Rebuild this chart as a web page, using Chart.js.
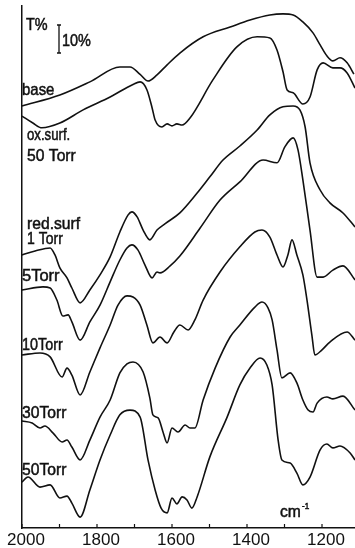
<!DOCTYPE html>
<html>
<head>
<meta charset="utf-8">
<script src="https://cdn.jsdelivr.net/npm/chart.js@4/dist/chart.umd.min.js"></script>
<style>
  html, body { margin: 0; padding: 0; background: #fff; }
  canvas { display: block; }
</style>
</head>
<body>
<canvas id="spectra" width="355" height="548"></canvas>
<script>
// IR transmission spectra, 2000-1112 cm-1. Curves are stacked with vertical offsets;
// values are transmittance in % on a common offset scale (10 % bar shown).

const baseWn = [2000,1899,1819,1739,1712,1685,1664,1640,1613,1579,1517,1445,1392,1339,1304,1277,1251,1224,1205,1187,1171,1152,1133,1115];
const baseT  = [150.7,154.6,159.3,164.6,164.6,162.0,159.6,161.8,165.4,169.6,175.4,178.9,181.4,183.2,183.6,183.2,180.7,176.8,172.5,168.6,166.8,167.9,166.1,162.1];

const oxWn = [2000,1971,1947,1899,1837,1765,1704,1685,1667,1653,1645,1627,1613,1600,1587,1573,1552,1491,1427,1373,1339,1320,1304,1293,1277,1251,1232,1213,1197,1171,1152,1133,1112];
const oxT  = [147.1,144.6,142.9,144.6,149.3,153.9,158.4,159.3,156.5,150.0,145.7,143.2,144.3,143.6,144.3,143.9,146.4,160.0,171.8,175.4,175.0,170.7,162.9,156.4,155.4,151.4,153.9,163.6,166.1,164.3,164.3,162.5,157.1];

const red1Wn = [2000,1965,1925,1912,1899,1880,1867,1845,1819,1792,1765,1739,1717,1707,1693,1677,1659,1640,1619,1579,1533,1499,1464,1419,1373,1339,1304,1277,1259,1245,1232,1205,1179,1144,1112];
const red1T  = [97.5,98.9,100.0,97.5,92.9,89.3,85.7,80.4,85.0,90.4,96.8,105.7,111.8,112.9,111.1,106.4,102.9,106.4,108.6,112.5,119.6,125.4,131.4,136.4,142.1,147.5,150.4,150.7,149.3,143.2,130.4,120.7,116.1,112.5,107.5];

const red5Wn = [2000,1944,1925,1907,1891,1877,1867,1845,1819,1792,1765,1739,1720,1707,1691,1672,1653,1640,1632,1605,1579,1525,1472,1419,1357,1320,1299,1277,1264,1251,1232,1213,1197,1171,1144,1112];
const red5T  = [85.0,86.1,85.7,81.4,75.7,76.1,73.6,67.1,73.6,79.6,87.9,95.7,100.0,101.1,99.3,93.9,89.3,91.4,91.1,93.6,97.1,107.1,117.1,123.6,131.4,130.4,136.1,139.3,135.0,124.3,106.4,89.6,89.6,92.1,93.6,88.6];

const red10Wn = [2000,1952,1925,1893,1880,1867,1845,1819,1792,1765,1744,1720,1704,1685,1667,1651,1632,1613,1595,1579,1557,1539,1517,1472,1419,1379,1360,1339,1320,1304,1291,1280,1267,1251,1240,1227,1219,1200,1179,1133,1112];
const red10T  = [61.8,62.5,61.1,53.9,57.1,54.6,47.5,55.7,64.3,72.5,79.6,82.9,82.5,79.6,72.5,66.1,68.2,66.1,70.0,72.5,70.7,74.3,81.4,91.4,100.4,105.7,106.4,103.9,97.5,93.2,97.5,102.9,97.5,90.4,81.4,68.9,61.8,63.6,66.4,70.0,67.1];

const red30Wn = [2000,1973,1952,1939,1917,1893,1880,1867,1845,1819,1792,1765,1739,1720,1704,1677,1659,1651,1637,1624,1613,1600,1584,1565,1552,1539,1517,1485,1445,1419,1379,1360,1344,1333,1320,1307,1285,1267,1251,1237,1224,1213,1187,1171,1144,1112];
const red30T  = [38.2,37.5,35.7,36.4,33.9,30.7,31.4,28.9,24.3,31.4,39.6,45.7,55.4,58.6,59.3,55.7,46.4,40.4,39.3,34.3,30.4,35.7,34.3,36.8,35.7,35.7,45.7,57.1,68.2,72.5,78.9,80.7,78.6,74.3,63.6,53.6,55.4,51.8,45.7,42.1,41.4,44.6,46.8,46.1,47.1,42.1];

const red50Wn = [2000,1984,1952,1925,1899,1880,1867,1845,1819,1792,1765,1739,1712,1685,1664,1645,1629,1613,1600,1587,1573,1560,1547,1533,1499,1453,1419,1392,1365,1347,1333,1317,1307,1285,1267,1251,1232,1205,1187,1171,1152,1125,1112];
const red50T  = [16.4,18.2,14.6,15.4,10.7,11.4,8.9,3.9,13.6,24.3,33.2,40.4,42.1,39.6,24.3,13.6,7.1,5.4,10.7,8.6,11.1,10.0,7.1,11.1,25.4,39.6,51.1,57.1,60.7,58.2,51.1,31.4,24.3,23.2,19.6,15.4,18.2,27.9,30.0,28.6,29.3,26.8,24.3];

const seriesNames = ['base', 'ox.surf. 50 Torr', 'red.surf 1 Torr', '5Torr', '10Torr', '30Torr', '50Torr'];
const xTickLabels = [2000, 1800, 1600, 1400, 1200];
const SCALE_BAR_PCT = 10;

const INK = '#111';
const FONT = '"Liberation Sans", Arial, sans-serif';

const seriesData = [
  [baseWn, baseT], [oxWn, oxT], [red1Wn, red1T], [red5Wn, red5T],
  [red10Wn, red10T], [red30Wn, red30T], [red50Wn, red50T]
];

// Curve captions and axis annotations (pixel layout).
const captions = [
  { text: 'T%',       x: 26, y: 30,  size: 16,   sx: 0.9 },
  { text: '10%',      x: 62, y: 46,  size: 17,   sx: 0.85 },
  { text: 'base',     x: 22, y: 95,  size: 17,   sx: 0.88 },
  { text: 'ox.surf.', x: 27, y: 140, size: 16.5, sx: 0.8 },
  { text: '50 Torr',  x: 27, y: 161, size: 16.5, sx: 0.95 },
  { text: 'red.surf', x: 27, y: 229, size: 16.5, sx: 0.95 },
  { text: '1 Torr',   x: 27, y: 244, size: 16.5, sx: 0.85 },
  { text: '5Torr',    x: 22, y: 281, size: 16.5, sx: 1.0 },
  { text: '10Torr',   x: 22, y: 350, size: 16.5, sx: 0.87 },
  { text: '30Torr',   x: 22, y: 418, size: 16.5, sx: 0.95 },
  { text: '50Torr',   x: 22, y: 475, size: 16.5, sx: 0.95 }
];

function drawText(ctx, text, x, y, size, sx) {
  ctx.save();
  ctx.translate(x, y);
  ctx.scale(sx, 1);
  ctx.font = size + 'px ' + FONT;
  ctx.textBaseline = 'alphabetic';
  ctx.textAlign = 'left';
  ctx.lineWidth = 0.5;
  ctx.fillText(text, 0, 0);
  ctx.strokeText(text, 0, 0);
  ctx.restore();
}

const inkPlugin = {
  id: 'ink',
  afterDraw(chart) {
    const { ctx, chartArea: a, scales: { x, y } } = chart;
    ctx.save();
    ctx.strokeStyle = INK;
    ctx.fillStyle = INK;
    ctx.lineWidth = 1.2;

    // short inward ticks every 100 cm-1
    x.ticks.forEach(t => {
      if (t.value % 100 !== 0) return;
      const px = x.getPixelForValue(t.value);
      ctx.beginPath();
      ctx.moveTo(px, a.bottom);
      ctx.lineTo(px, a.bottom - 4);
      ctx.stroke();
    });

    // 10 % transmittance scale bar
    const barX = a.left + 37;
    const barBottom = 53;
    const barLen = y.getPixelForValue(0) - y.getPixelForValue(SCALE_BAR_PCT);
    ctx.lineWidth = 1.3;
    ctx.beginPath();
    ctx.moveTo(barX, barBottom);
    ctx.lineTo(barX, barBottom - barLen);
    ctx.moveTo(barX - 2, barBottom);
    ctx.lineTo(barX + 2, barBottom);
    ctx.moveTo(barX - 2, barBottom - barLen);
    ctx.lineTo(barX + 2, barBottom - barLen);
    ctx.stroke();

    captions.forEach(c => drawText(ctx, c.text, c.x, c.y, c.size, c.sx));

    // unit label
    drawText(ctx, 'cm', 280, 517, 16.5, 0.95);
    drawText(ctx, '-1', 302, 509, 9, 0.9);

    ctx.restore();
  }
};

new Chart(document.getElementById('spectra'), {
  type: 'line',
  data: {
    datasets: seriesData.map(([wn, t], i) => ({
      label: seriesNames[i],
      data: wn.map((w, k) => ({ x: w, y: t[k] })),
      borderColor: INK,
      borderWidth: 1.6,
      pointRadius: 0,
      fill: false,
      cubicInterpolationMode: 'monotone',
      clip: false
    }))
  },
  options: {
    responsive: false,
    animation: false,
    devicePixelRatio: 1,
    layout: { padding: { left: 22, right: 0, top: 6, bottom: 0 } },
    plugins: { legend: { display: false }, tooltip: { enabled: false } },
    scales: {
      x: {
        type: 'linear',
        reverse: true,
        min: 1112,
        max: 2000,
        grid: { display: false, drawTicks: false },
        border: { display: true, color: INK, width: 1.5 },
        ticks: {
          stepSize: 100,
          includeBounds: false,
          autoSkip: false,
          maxRotation: 0,
          padding: 2,
          labelOffset: 4,
          color: INK,
          font: { family: FONT, size: 17 },
          callback: v => xTickLabels.includes(v) ? String(v) : ''
        },
        afterFit: s => { s.height = 20; }
      },
      y: {
        type: 'linear',
        min: 0,
        max: 186.4,
        grid: { display: false, drawTicks: false },
        border: { display: true, color: INK, width: 1.5 },
        ticks: { display: false },
        afterFit: s => { s.width = 0; }
      }
    }
  },
  plugins: [inkPlugin]
});
</script>
</body>
</html>
